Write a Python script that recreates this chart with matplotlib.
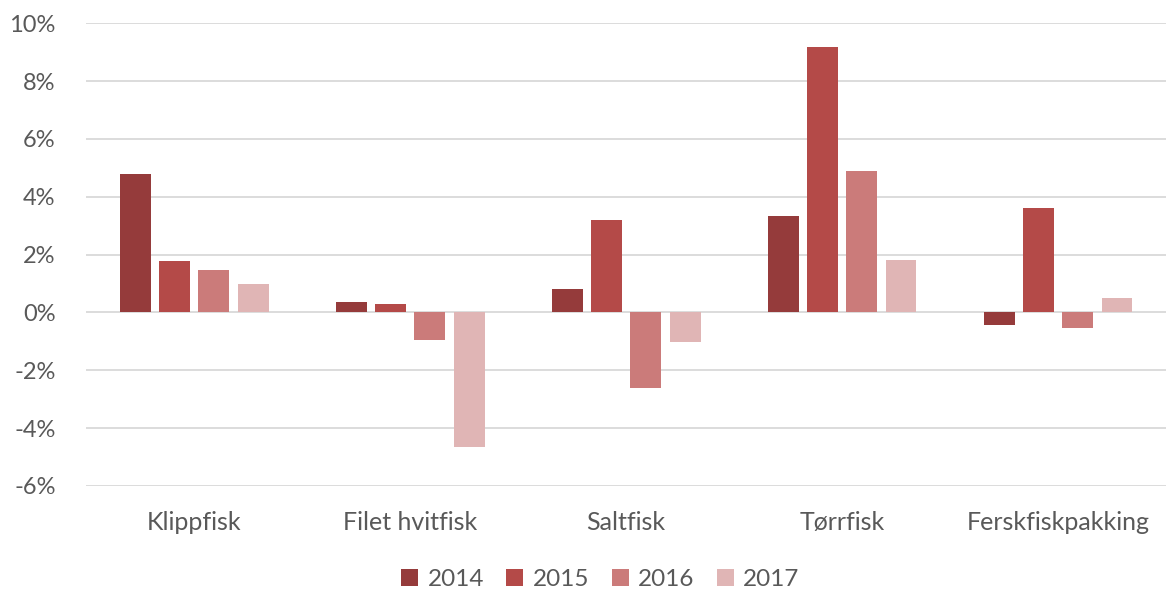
import matplotlib.pyplot as plt
import numpy as np

kategorier = ['Klippfisk', 'Filet hvitfisk', 'Saltfisk', 'Tørrfisk', 'Ferskfiskpakking']
aar = ['2014', '2015', '2016', '2017']
v2014 = [4.8, 0.37, 0.8, 3.32, -0.45]
v2015 = [1.76, 0.28, 3.18, 9.17, 3.6]
v2016 = [1.45, -0.97, -2.63, 4.88, -0.55]
v2017 = [0.97, -4.64, -1.04, 1.8, 0.48]
farger = ['#953B3B', '#B44A48', '#CB7B7A', '#E0B5B5']

plt.rcParams['font.family'] = ['Lato', 'DejaVu Sans']

fig = plt.figure(figsize=(11.66, 5.94), dpi=100)
ax = fig.add_axes([0.074, 0.182, 0.926, 0.779])

x = np.arange(len(kategorier))
bredde = 0.143
steg = 0.182
for i, (serie, navn) in enumerate(zip([v2014, v2015, v2016, v2017], aar)):
    ax.bar(x + (i - 1.5) * steg, serie, bredde, color=farger[i], label=navn, zorder=3)

ax.set_xlim(-0.5, len(kategorier) - 0.5)
ax.set_ylim(-6, 10)
ax.set_yticks(range(-6, 11, 2))
ax.set_yticklabels([f'{t}%' for t in range(-6, 11, 2)])
ax.set_xticks([])
ax.grid(axis='y', color='#D9D9D9', linewidth=1.3, zorder=0)
for s in ax.spines.values():
    s.set_visible(False)
ax.tick_params(length=0, labelsize=17, labelcolor='#595959')
ax.tick_params(axis='y', pad=22)

# kategorinavn under plottet
trans = ax.get_xaxis_transform()
for xi, navn in zip(x, kategorier):
    ax.text(xi, -0.08, navn, transform=trans, ha='center', va='center',
            fontsize=18, color='#595959')

fig.legend(loc='center', bbox_to_anchor=(0.515, 0.024), ncol=4, frameon=False,
           fontsize=17.5, labelcolor='#595959', handlelength=0.7, handleheight=0.7,
           columnspacing=0.9, handletextpad=0.4)

fig.savefig('out.png', dpi=100)
